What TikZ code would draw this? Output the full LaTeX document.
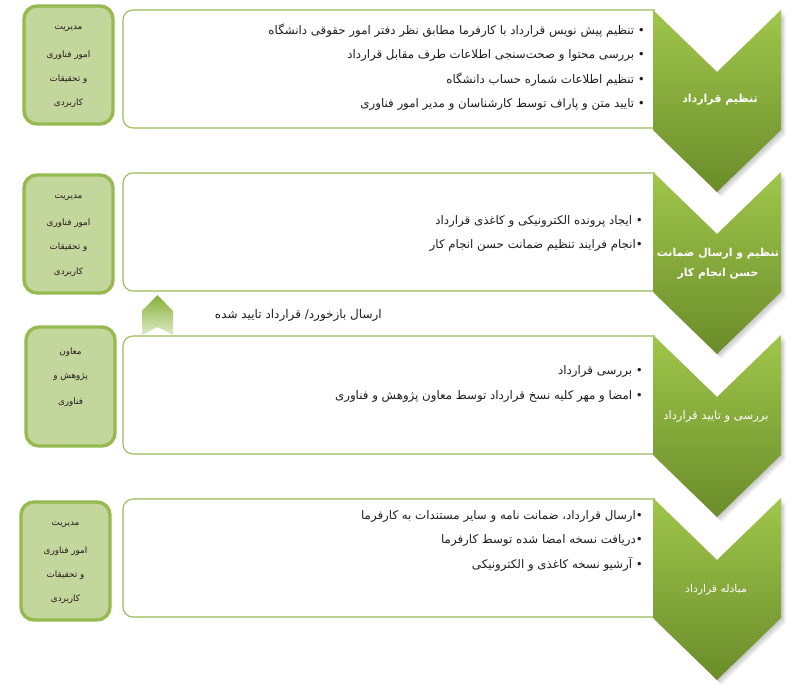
\documentclass[tikz,border=0pt]{standalone}
\usepackage{fontspec}
\newfontfamily\fa[Script=Arabic]{DejaVu Sans}
\TeXXeTstate=1
\newcommand{\fatxt}[1]{{\fa\beginR #1\endR}}
\definecolor{boxline}{RGB}{155,187,89}
\definecolor{lfill}{RGB}{195,214,155}
\definecolor{lline}{RGB}{150,185,80}
\definecolor{chtop}{RGB}{160,198,75}
\definecolor{chbot}{RGB}{106,140,42}
\definecolor{txt}{RGB}{30,30,30}
\definecolor{armid}{RGB}{132,174,54}
\definecolor{arbot}{RGB}{222,236,198}
\begin{document}
\begin{tikzpicture}[x=1pt,y=-1pt,
 bul/.style={anchor=east, inner sep=0pt, font=\fontsize{11.8}{14}\selectfont, text=txt},
 ltext/.style={inner sep=0pt, font=\fontsize{8.8}{10}\selectfont, text=txt},
 chlab/.style={inner sep=0pt, text=white, align=center},
 tbox/.style={draw=boxline, line width=1.1pt, rounded corners=10pt},
 lbox/.style={draw=lline, fill=lfill, line width=3.4pt, rounded corners=13pt},
 chev/.style={top color=chtop, bottom color=chbot},
 chshadow/.style={fill=black, opacity=0.07},
]
\useasboundingbox (0,0) rectangle (795,690);
\fill[white] (0,0) rectangle (795,690);

% text boxes
\draw[tbox] (655,128) -- (123,128) -- (123,10) -- (655,10);
\draw[tbox] (655,291) -- (123,291) -- (123,173) -- (655,173);
\draw[tbox] (655,454) -- (123,454) -- (123,336) -- (655,336);
\draw[tbox] (655,617) -- (123,617) -- (123,499) -- (655,499);

% chevron shadows
\foreach \t in {10,172,335,498}{
  \foreach \d in {1.5,3,4.5}{
    \fill[chshadow] (653+\d,\t+\d) -- (717+\d,\t+62+\d) -- (781+\d,\t+\d) -- (781+\d,\t+120+\d) -- (717+\d,\t+182+\d) -- (653+\d,\t+120+\d) -- cycle;
  }
}
% chevrons
\foreach \t in {10,172,335,498}{
  \shade[chev] (653,\t) -- (717,\t+62) -- (781,\t) -- (781,\t+120) -- (717,\t+182) -- (653,\t+120) -- cycle;
}

% left boxes
\draw[lbox] (24,6) rectangle (113,124);
\draw[lbox] (24,175) rectangle (113,293);
\draw[lbox] (26,327) rectangle (115,446);
\draw[lbox] (21,502) rectangle (110,620);

% up arrow
\shade[top color=armid, middle color=armid, bottom color=arbot] (142,311) -- (157.5,295) -- (173,311) -- (173,335) -- (157.5,327) -- (142,335) -- cycle;

% left box texts
\node[ltext] (l1a) at (68.5,29) {\fatxt{مدیریت}};
\node[ltext] (l1b) at (68.5,55) {\fatxt{امور فناوری}};
\node[ltext] (l1c) at (68.5,79) {\fatxt{و تحقیقات}};
\node[ltext] (l1d) at (68.5,103) {\fatxt{کاربردی}};

\node[ltext] (l2a) at (68.5,198) {\fatxt{مدیریت}};
\node[ltext] (l2b) at (68.5,223) {\fatxt{امور فناوری}};
\node[ltext] (l2c) at (68.5,247) {\fatxt{و تحقیقات}};
\node[ltext] (l2d) at (68.5,272) {\fatxt{کاربردی}};

\node[ltext] (l3a) at (70.5,352) {\fatxt{معاون}};
\node[ltext] (l3b) at (70.5,377) {\fatxt{پژوهش و}};
\node[ltext] (l3c) at (70.5,402) {\fatxt{فناوری}};

\node[ltext] (l4a) at (65.5,525) {\fatxt{مدیریت}};
\node[ltext] (l4b) at (65.5,551) {\fatxt{امور فناوری}};
\node[ltext] (l4c) at (65.5,575) {\fatxt{و تحقیقات}};
\node[ltext] (l4d) at (65.5,599) {\fatxt{کاربردی}};

% bullet texts
\node[bul] (b1a) at (645,31) {\fatxt{• تنظیم پیش نویس قرارداد با کارفرما مطابق نظر دفتر امور حقوقی دانشگاه}};
\node[bul] (b1b) at (645,55) {\fatxt{• بررسی محتوا و صحت^^^^200cسنجی اطلاعات طرف مقابل قرارداد}};
\node[bul] (b1c) at (645,80) {\fatxt{• تنظیم اطلاعات شماره حساب دانشگاه}};
\node[bul] (b1d) at (645,104) {\fatxt{• تایید متن و پاراف توسط کارشناسان و مدیر امور فناوری}};

\node[bul] (b2a) at (643,221) {\fatxt{• ایجاد پرونده الکترونیکی و کاغذی قرارداد}};
\node[bul] (b2b) at (643,245) {\fatxt{•انجام فرایند تنظیم ضمانت حسن انجام کار}};

\node[bul] (b3a) at (643,371) {\fatxt{• بررسی قرارداد}};
\node[bul] (b3b) at (643,396) {\fatxt{• امضا و مهر کلیه نسخ قرارداد توسط معاون پژوهش و فناوری}};

\node[bul] (b4a) at (643,516) {\fatxt{•ارسال قرارداد، ضمانت نامه و سایر مستندات به کارفرما}};
\node[bul] (b4b) at (643,540) {\fatxt{•دریافت نسخه امضا شده توسط کارفرما}};
\node[bul] (b4c) at (643,564) {\fatxt{• آرشیو نسخه کاغذی و الکترونیکی}};

% feedback label
\node[bul, font=\fontsize{12}{14}\selectfont] (fb) at (382,315) {\fatxt{ارسال بازخورد/ قرارداد تایید شده}};

% chevron labels
\node[chlab, font=\fontsize{11}{16}\selectfont\bfseries] (c1) at (720,100) {\fatxt{تنظیم قرارداد}};
\node[chlab, font=\fontsize{10.9}{20}\selectfont\bfseries] (c2) at (718,264) {\fatxt{تنظیم و ارسال ضمانت}\\\fatxt{حسن انجام کار}};
\node[chlab, font=\fontsize{11.6}{16}\selectfont] (c3) at (716,417) {\fatxt{بررسی و تایید قرارداد}};
\node[chlab, font=\fontsize{10.8}{16}\selectfont] (c4) at (716,590) {\fatxt{مبادله قرارداد}};
\end{tikzpicture}
\end{document}
